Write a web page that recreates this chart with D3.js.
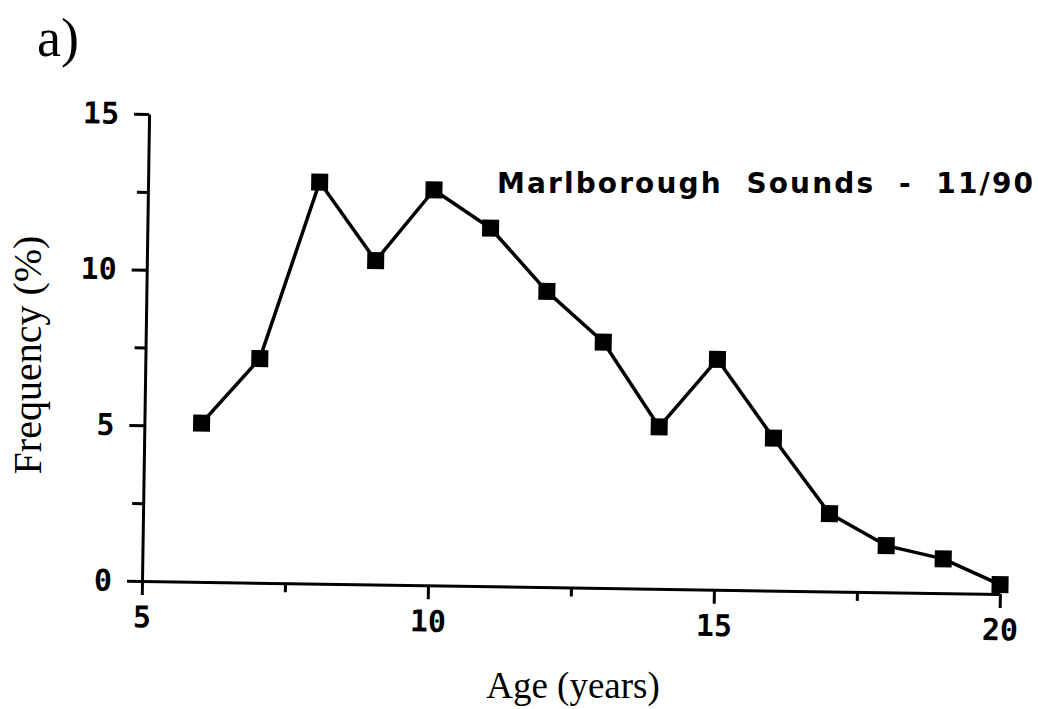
<!DOCTYPE html>
<html>
<head>
<meta charset="utf-8">
<script src="https://cdn.jsdelivr.net/npm/d3@7"></script>
<style>
  body { margin: 0; background: #fff; }
  svg { display: block; }
  .tick text { font-family: "DejaVu Sans Mono", "Liberation Mono", monospace; font-weight: bold; font-size: 30px; }
  .serif { font-family: "Liberation Serif", "Times New Roman", serif; }
</style>
</head>
<body>
<script>
// data
var ages = [6, 7, 8, 9, 10, 11, 12, 13, 14, 15, 16, 17, 18, 19, 20]
var frequency = [5.1, 7.2, 12.9, 10.4, 12.7, 11.5, 9.5, 7.9, 5.2, 7.4, 4.9, 2.5, 1.5, 1.1, 0.3]
var xTicks = [5, 10, 15, 20]
var xMinor = [7.5, 12.5, 17.5]
var yTicks = [0, 5, 10, 15]
var yMinor = [2.5, 7.5, 12.5]

var width = 1038
var height = 709

var svg = d3.select('body').append('svg')
  .attr('width', width)
  .attr('height', height)

svg.append('rect')
  .attr('width', width)
  .attr('height', height)
  .attr('fill', '#fff')

// panel label
svg.append('text')
  .attr('class', 'serif')
  .attr('x', 37)
  .attr('y', 56)
  .style('font-size', '54px')
  .text('a)')

var x = d3.scaleLinear().domain([5, 20]).range([142, 1000])
var y = d3.scaleLinear().domain([0, 15]).range([581, 114])

// the scan is tilted a little, so the plot is too
var plot = svg.append('g')
  .attr('transform', 'rotate(0.87, 142, 581)')

// minor ticks first so the main axes sit on top
plot.append('g')
  .attr('transform', 'translate(0,' + y(0) + ')')
  .call(d3.axisBottom(x).tickValues(xMinor).tickSize(9).tickFormat(''))
  .call(function(g) { g.select('.domain').remove() })

plot.append('g')
  .attr('transform', 'translate(' + x(5) + ',0)')
  .call(d3.axisLeft(y).tickValues(yMinor).tickSize(11).tickFormat(''))
  .call(function(g) { g.select('.domain').remove() })

plot.append('g')
  .attr('transform', 'translate(0,' + y(0) + ')')
  .call(d3.axisBottom(x).tickValues(xTicks).tickSize(14).tickSizeOuter(0).tickPadding(11))

plot.append('g')
  .attr('transform', 'translate(' + x(5) + ',0)')
  .call(d3.axisLeft(y).tickValues(yTicks).tickSize(15).tickSizeOuter(0).tickPadding(15))

plot.selectAll('.domain, .tick line')
  .attr('stroke', '#000')
  .attr('stroke-width', 3)
plot.selectAll('.tick text').attr('fill', '#000')

// series line
var line = d3.line()
  .x(function(d, i) { return x(ages[i]) })
  .y(function(d) { return y(d) })

plot.append('path')
  .datum(frequency)
  .attr('fill', 'none')
  .attr('stroke', '#000')
  .attr('stroke-width', 3.5)
  .attr('stroke-linejoin', 'round')
  .attr('d', line)

var markerSize = 17
plot.selectAll('.marker')
  .data(frequency)
  .enter()
  .append('rect')
  .attr('class', 'marker')
  .attr('x', function(d, i) { return x(ages[i]) - markerSize / 2 })
  .attr('y', function(d) { return y(d) - markerSize / 2 })
  .attr('width', markerSize)
  .attr('height', markerSize)
  .attr('fill', '#000')

// series label
svg.append('text')
  .attr('x', 497)
  .attr('y', 193)
  .attr('textLength', 536)
  .attr('lengthAdjust', 'spacing')
  .style('font-family', '"DejaVu Sans", Verdana, sans-serif')
  .style('font-weight', 'bold')
  .style('font-size', '28px')
  .style('white-space', 'pre')
  .text('Marlborough  Sounds  -  11/90')

// axis titles
svg.append('text')
  .attr('class', 'serif')
  .attr('text-anchor', 'middle')
  .attr('x', 573)
  .attr('y', 698)
  .style('font-size', '37px')
  .text('Age (years)')

svg.append('text')
  .attr('class', 'serif')
  .attr('text-anchor', 'middle')
  .attr('transform', 'translate(41,355) rotate(-90)')
  .style('font-size', '40px')
  .text('Frequency (%)')
</script>
</body>
</html>
